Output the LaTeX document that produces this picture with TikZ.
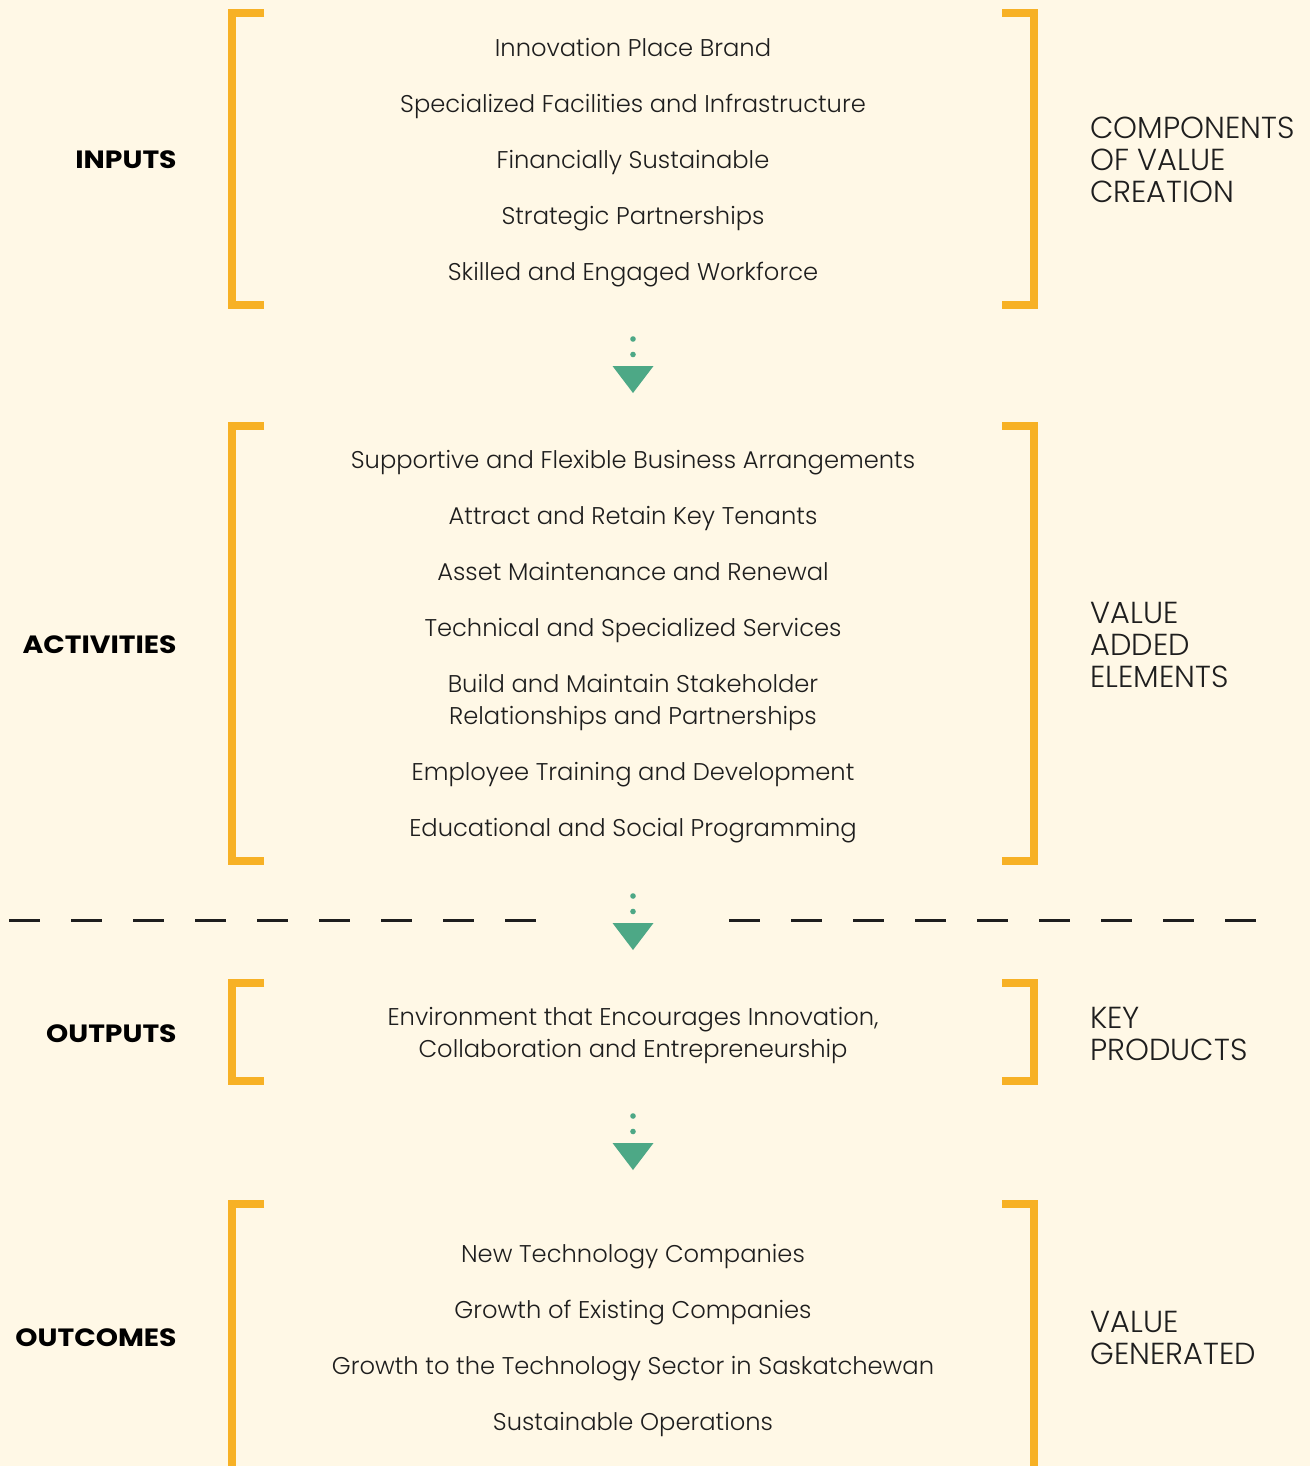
\documentclass[tikz,border=0pt]{standalone}
\usepackage{fontspec}
\setmainfont{Poppins}[UprightFont=* Light, BoldFont=* Bold]
\newfontfamily\lblfont{Poppins}[UprightFont=* Bold, FakeStretch=1.13]
\definecolor{bgc}{HTML}{FFF8E6}
\definecolor{brc}{HTML}{F7B125}
\definecolor{grc}{HTML}{4DA886}
\definecolor{txc}{HTML}{1E1E1E}
\tikzset{
  item/.style={font=\fontsize{12.1}{16}\selectfont, text=txc, align=center, inner sep=0pt, yshift=-1.5pt},
  lbl/.style={font=\lblfont\fontsize{12.5}{14}\selectfont, text=black, anchor=mid east, inner sep=0pt, yshift=-1.5pt},
  rlbl/.style={font=\fontsize{15.2}{16}\selectfont, text=txc, align=left, anchor=west, inner sep=0pt},
  bracket/.style={draw=brc, line width=4pt, line cap=butt, line join=miter},
  dashline/.style={draw=txc, line width=1.2pt, dash pattern=on 15.5pt off 15.5pt}
}
\newcommand{\flowarrow}[1]{%
  \fill[grc] (633,#1) circle (2.8);
  \fill[grc] (633,#1+15.5) circle (2.8);
  \fill[grc] (612.5,#1+27) -- (653.5,#1+27) -- (633,#1+54) -- cycle;}
\begin{document}
\begin{tikzpicture}[x=0.5pt,y=-0.5pt]
\useasboundingbox (0,0) rectangle (1310,1466);
\fill[bgc] (0,0) rectangle (1310,1466);

% INPUTS
\draw[bracket] (264,12.7) -- (232,12.7) -- (232,304.7) -- (264,304.7);
\draw[bracket] (1002,12.7) -- (1034,12.7) -- (1034,304.7) -- (1002,304.7);
\node[lbl] (inputs) at (177,160) {INPUTS};
\node[item, anchor=mid] (i1) at (633,48) {Innovation Place Brand};
\node[item, anchor=mid] (i2) at (633,104) {Specialized Facilities and Infrastructure};
\node[item, anchor=mid] (i3) at (633,160) {Financially Sustainable};
\node[item, anchor=mid] (i4) at (633,216) {Strategic Partnerships};
\node[item, anchor=mid] (i5) at (633,272) {Skilled and Engaged Workforce};
\node[rlbl] (r1) at (1090,160) {COMPONENTS\\OF VALUE\\CREATION};

\flowarrow{339}

% ACTIVITIES
\draw[bracket] (264,425.7) -- (232,425.7) -- (232,860.7) -- (264,860.7);
\draw[bracket] (1002,425.7) -- (1034,425.7) -- (1034,860.7) -- (1002,860.7);
\node[lbl] (activities) at (177,645) {ACTIVITIES};
\node[item, anchor=mid] (a1) at (633,460) {Supportive and Flexible Business Arrangements};
\node[item, anchor=mid] (a2) at (633,516) {Attract and Retain Key Tenants};
\node[item, anchor=mid] (a3) at (633,572) {Asset Maintenance and Renewal};
\node[item, anchor=mid] (a4) at (633,628) {Technical and Specialized Services};
\node[item] (a5) at (633,700) {Build and Maintain Stakeholder\\Relationships and Partnerships};
\node[item, anchor=mid] (a6) at (633,772) {Employee Training and Development};
\node[item, anchor=mid] (a7) at (633,828) {Educational and Social Programming};
\node[rlbl] (r2) at (1090,645) {VALUE\\ADDED\\ELEMENTS};

% divider
\draw[dashline] (9,920.5) -- (536,920.5);
\draw[dashline] (729,920.5) -- (1256,920.5);
\flowarrow{896}

% OUTPUTS
\draw[bracket] (264,983) -- (232,983) -- (232,1081) -- (264,1081);
\draw[bracket] (1002,983) -- (1034,983) -- (1034,1081) -- (1002,1081);
\node[lbl] (outputs) at (177,1034) {OUTPUTS};
\node[item] (o1) at (633,1033) {Environment that Encourages Innovation,\\Collaboration and Entrepreneurship};
\node[rlbl] (r3) at (1090,1034) {KEY\\PRODUCTS};

\flowarrow{1116}

% OUTCOMES
\draw[bracket] (264,1204) -- (232,1204) -- (232,1480);
\draw[bracket] (1002,1204) -- (1034,1204) -- (1034,1480);
\node[lbl] (outcomes) at (177,1338) {OUTCOMES};
\node[item, anchor=mid] (c1) at (633,1254) {New Technology Companies};
\node[item, anchor=mid] (c2) at (633,1310) {Growth of Existing Companies};
\node[item, anchor=mid] (c3) at (633,1366) {Growth to the Technology Sector in Saskatchewan};
\node[item, anchor=mid] (c4) at (633,1422) {Sustainable Operations};
\node[rlbl] (r4) at (1090,1338) {VALUE\\GENERATED};
\end{tikzpicture}
\end{document}
